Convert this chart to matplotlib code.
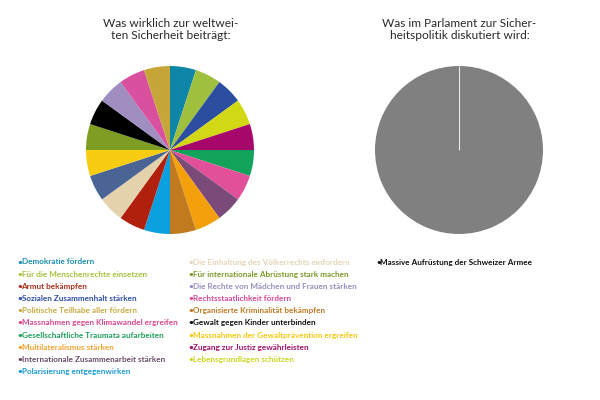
import matplotlib.pyplot as plt

plt.rcParams['font.family'] = ['Lato', 'DejaVu Sans']

# linke Grafik: 20 gleich grosse Stücke, im Uhrzeigersinn ab 12 Uhr
pie_values = [1] * 20
pie_colors = ['#0f86a8', '#9fc03e', '#2c4ea0', '#d3d815', '#a5076a',
              '#12a35a', '#e2509a', '#7a4a78', '#f4a00c', '#c27a1e',
              '#0aa0e0', '#b0200c', '#e4d2ad', '#4a6496', '#f8cc10',
              '#7d9e22', '#000000', '#a08ec0', '#d9509e', '#c6a638']

legend_left = ['Demokratie fördern',
               'Für die Menschenrechte einsetzen',
               'Armut bekämpfen',
               'Sozialen Zusammenhalt stärken',
               'Politische Teilhabe aller fördern',
               'Massnahmen gegen Klimawandel ergreifen',
               'Gesellschaftliche Traumata aufarbeiten',
               'Multilateralismus stärken',
               'Internationale Zusammenarbeit stärken',
               'Polarisierung entgegenwirken']
colors_left = ['#1a8db0', '#a5c23e', '#a8301c', '#2c4ea0', '#c9aa40',
               '#d8468e', '#1ea05a', '#f2a230', '#6a4a6a', '#1a9ad6']

legend_mid = ['Die Einhaltung des Völkerrechts einfordern',
              'Für internationale Abrüstung stark machen',
              'Die Rechte von Mädchen und Frauen stärken',
              'Rechtsstaatlichkeit fördern',
              'Organisierte Kriminalität bekämpfen',
              'Gewalt gegen Kinder unterbinden',
              'Massnahmen der Gewaltprävention ergreifen',
              'Zugang zur Justiz gewährleisten',
              'Lebensgrundlagen schützen']
colors_mid = ['#e4d4b4', '#7a9a28', '#9a8cc0', '#d8489a', '#c07a24',
              '#111111', '#f5c810', '#a0106a', '#ccd420']

# rechte Grafik
right_values = [1]
right_colors = ['#808080']
legend_right = ['Massive Aufrüstung der Schweizer Armee']
colors_right = ['#111111']

fig = plt.figure(figsize=(6, 4), dpi=100)

ax1 = fig.add_axes([0.1433, 0.415, 0.28, 0.42])
ax1.pie(pie_values, colors=pie_colors, startangle=90, counterclock=False,
        wedgeprops=dict(linewidth=0))
ax1.set_xlim(-1, 1)
ax1.set_ylim(-1, 1)
ax1.set_aspect('equal')

ax2 = fig.add_axes([0.625, 0.415, 0.28, 0.42])
ax2.pie(right_values, colors=right_colors, startangle=90, counterclock=False,
        wedgeprops=dict(linewidth=0))
# dünne weisse Kante des Kuchenstücks bei 12 Uhr
ax2.vlines(0, 0, 1, color='#e8e8e8', linewidth=0.8)
ax2.set_xlim(-1, 1)
ax2.set_ylim(-1, 1)
ax2.set_aspect('equal')

title_kw = dict(ha='center', va='center', fontsize=8.6, color='#2a2a2a')
fig.text(171 / 600, 1 - 23.5 / 400, 'Was wirklich zur weltwei-', **title_kw)
fig.text(171 / 600, 1 - 35.5 / 400, 'ten Sicherheit beiträgt:', **title_kw)
fig.text(459.5 / 600, 1 - 23.5 / 400, 'Was im Parlament zur Sicher-', **title_kw)
fig.text(459.5 / 600, 1 - 35.5 / 400, 'heitspolitik diskutiert wird:', **title_kw)


def draw_legend(labels, colors, x, y0, step=12.2):
    for i, (lab, col) in enumerate(zip(labels, colors)):
        y = 1 - (y0 + i * step) / 400
        fig.text(x / 600, y, '•', ha='left', va='center', fontsize=6,
                 fontweight='bold', color=col)
        fig.text((x + 4.5) / 600, y, lab, ha='left', va='center', fontsize=5.9,
                 fontweight='bold', color=col)


draw_legend(legend_left, colors_left, 17, 262)
draw_legend(legend_mid, colors_mid, 188.5, 262.5, step=12.1)
draw_legend(legend_right, colors_right, 376, 262)

fig.savefig('out.png', dpi=100)
